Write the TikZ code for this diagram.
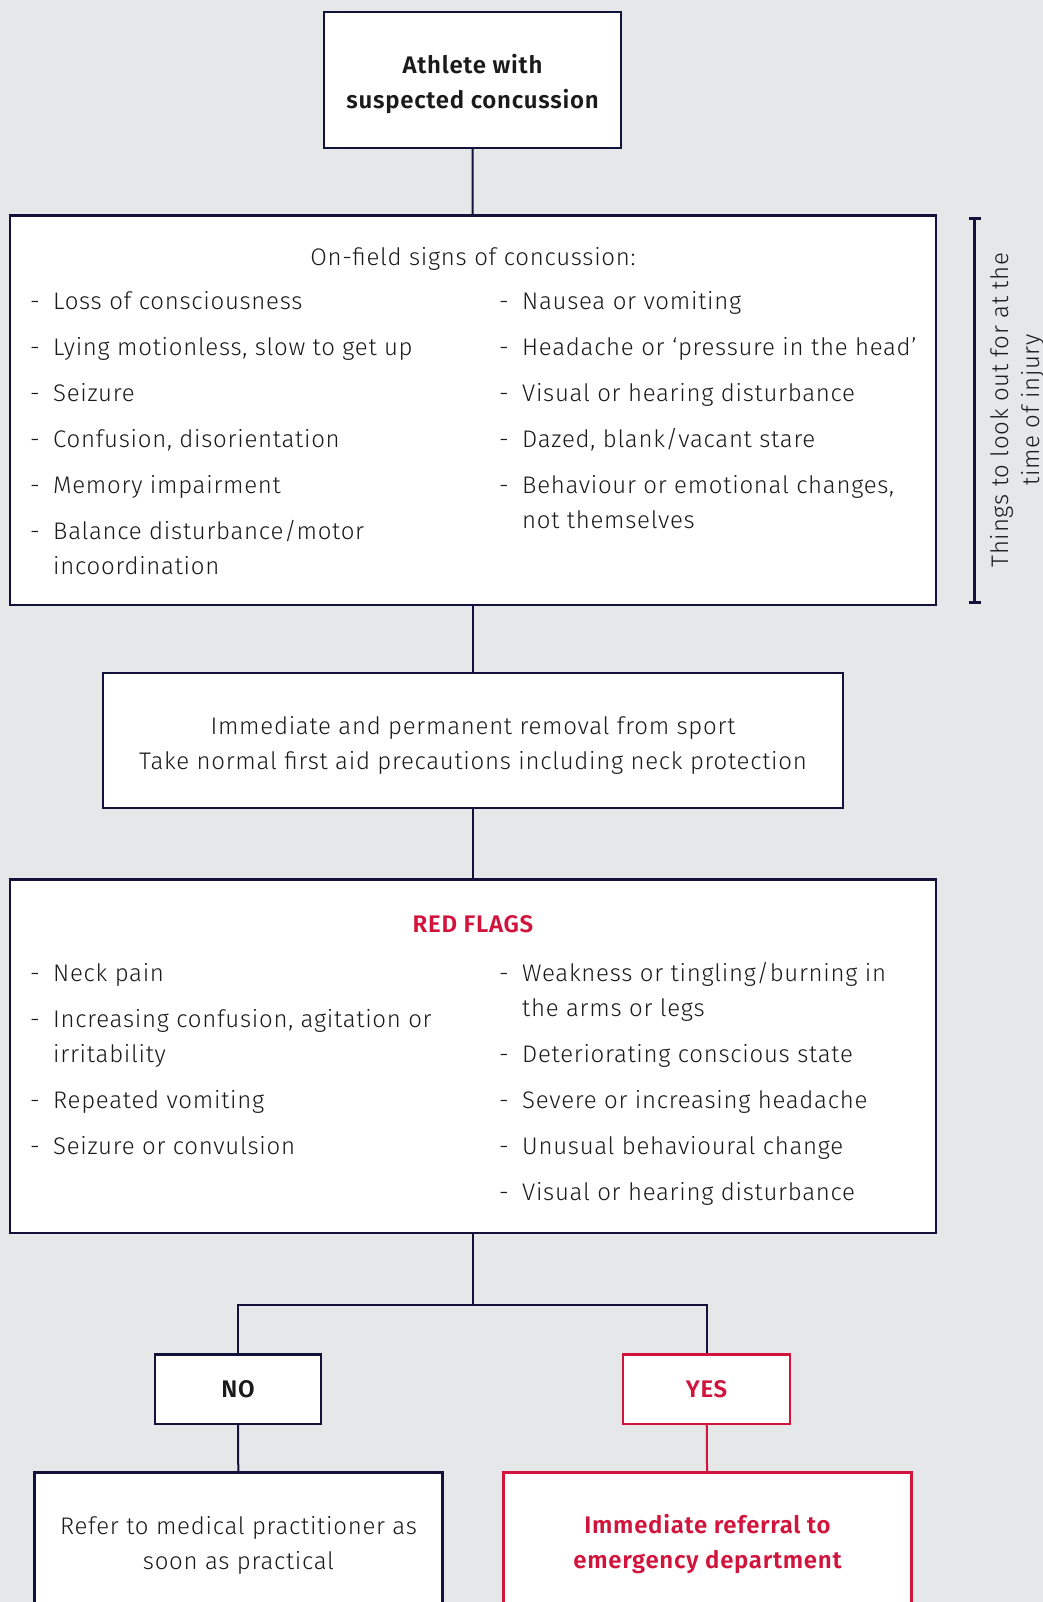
\documentclass[tikz,border=0pt]{standalone}
\usepackage{fontspec}
\setmainfont{Fira Sans Light}[BoldFont={Fira Sans SemiBold},LetterSpace=3]
\usetikzlibrary{positioning}
\definecolor{navy}{HTML}{12123A}
\definecolor{flagred}{HTML}{D2143C}
\definecolor{paper}{HTML}{E6E7E9}
\definecolor{ink}{HTML}{1A1A1A}
\newcommand{\listdash}{\makebox[23pt][l]{-}}
\newcommand{\topstrut}[1]{\rule{0pt}{#1}}

\begin{document}
\begin{tikzpicture}[
        x=1pt, y=-1pt,
        every node/.style={font=\fontsize{24}{35}\selectfont, text=ink},
        box/.style={draw=navy, line width=2.5pt, fill=white, inner sep=0pt, align=center},
        redbox/.style={box, draw=flagred, text=flagred},
        item/.style={anchor=base west, inner sep=0pt},
        head/.style={anchor=base, inner sep=0pt},
        conn/.style={draw=navy, line width=2pt}
    ]
    \useasboundingbox (0,0) rectangle (1043,1602);
    \clip (0,0) rectangle (1043,1602);
    \fill[paper] (0,0) rectangle (1043,1602);

    % boxes
    \node (athlete) [box, font=\fontsize{24}{35}\selectfont\bfseries, minimum width=297pt, minimum height=136pt] at (472.5,80) {\topstrut{28pt}Athlete with\\suspected concussion};
    \node (signs) [box, minimum width=926pt, minimum height=389.5pt] at (473,410.25) {};
    \node (removal) [box, minimum width=740pt, minimum height=135pt] at (473,740.5) {\topstrut{27pt}Immediate and permanent removal from sport\\Take normal first aid precautions including neck protection};
    \node (flags) [box, minimum width=926pt, minimum height=353.5pt] at (473,1056.25) {};
    \node (no) [box, font=\fontsize{24}{35}\selectfont\bfseries, minimum width=166pt, minimum height=69.5pt] at (238,1389) {NO};
    \node (yes) [redbox, font=\fontsize{24}{35}\selectfont\bfseries, minimum width=167pt, minimum height=69.5pt] at (706.5,1389) {YES};
    \node (referral) [box, minimum width=408pt, minimum height=141pt] at (238.5,1543) {\topstrut{22pt}Refer to medical practitioner as\\soon as practical};
    \node (emergency) [redbox, font=\fontsize{24}{35}\selectfont\bfseries, minimum width=408pt, minimum height=141pt] at (707.5,1543) {\topstrut{22pt}Immediate referral to\\emergency department};

    % on-field signs
    \node (signshead) [head] at (473,266) {On-field signs of concussion:};
    \node (sl1) [item] at (30,309) {\listdash Loss of consciousness};
    \node (sl2) [item] at (30,355) {\listdash Lying motionless, slow to get up};
    \node (sl3) [item] at (30,401) {\listdash Seizure};
    \node (sl4) [item] at (30,447) {\listdash Confusion, disorientation};
    \node (sl5) [item] at (30,493) {\listdash Memory impairment};
    \node (sl6) [item] at (30,539) {\listdash Balance disturbance/motor};
    \node (sl6b) [item] at (53,574) {incoordination};
    \node (sr1) [item] at (499,309) {\listdash Nausea or vomiting};
    \node (sr2) [item] at (499,355) {\listdash Headache or ‘pressure in the head’};
    \node (sr3) [item] at (499,401) {\listdash Visual or hearing disturbance};
    \node (sr4) [item] at (499,447) {\listdash Dazed, blank/vacant stare};
    \node (sr5) [item] at (499,493) {\listdash Behaviour or emotional changes,};
    \node (sr5b) [item] at (522,528) {not themselves};

    % red flags
    \node (flagshead) [head, text=flagred, font=\fontsize{24}{35}\selectfont\bfseries] at (473,932) {RED FLAGS};
    \node (fl1) [item] at (30,981) {\listdash Neck pain};
    \node (fl2) [item] at (30,1027) {\listdash Increasing confusion, agitation or};
    \node (fl2b) [item] at (53,1062) {irritability};
    \node (fl3) [item] at (30,1108) {\listdash Repeated vomiting};
    \node (fl4) [item] at (30,1154) {\listdash Seizure or convulsion};
    \node (fr1) [item] at (499,981) {\listdash Weakness or tingling/burning in};
    \node (fr1b) [item] at (522,1016) {the arms or legs};
    \node (fr2) [item] at (499,1062) {\listdash Deteriorating conscious state};
    \node (fr3) [item] at (499,1108) {\listdash Severe or increasing headache};
    \node (fr4) [item] at (499,1154) {\listdash Unusual behavioural change};
    \node (fr5) [item] at (499,1200) {\listdash Visual or hearing disturbance};

    % side bracket
    \coordinate (btop) at (974.5,218.6);
    \coordinate (bbot) at (974.5,602.7);
    \draw[conn, line width=2.5pt] (btop) -- (bbot);
    \draw[conn, line width=2.5pt] ([xshift=-6pt]btop) -- ([xshift=6pt]btop);
    \draw[conn, line width=2.5pt] ([xshift=-6pt]bbot) -- ([xshift=6pt]bbot);
    \node (lookout) [rotate=90, align=center, inner sep=0pt, font=\fontsize{24}{31}\selectfont] at (1017,410) {Things to look out for at the\\time of injury};

    % connectors
    \coordinate (split) at (473,1305);
    \draw[conn] (athlete) -- (signs);
    \draw[conn] (signs) -- (removal);
    \draw[conn] (removal) -- (flags);
    \draw[conn] (flags) -- (split);
    \draw[conn] (no.north) |- (split) -| (yes.north);
    \draw[conn] (no) -- (referral);
    \draw[conn, draw=flagred] (yes) -- (emergency);
\end{tikzpicture}
\end{document}
